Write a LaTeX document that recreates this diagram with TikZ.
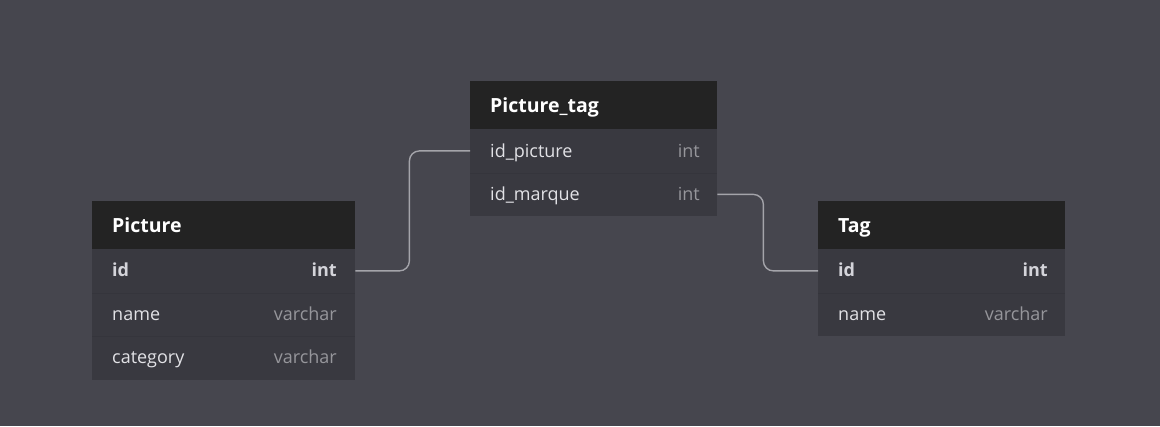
\documentclass[tikz,border=0pt]{standalone}
\usepackage{fontspec}
\setmainfont{Open Sans}
\definecolor{bgc}{HTML}{46464E}
\definecolor{hdrc}{HTML}{232323}
\definecolor{rowc}{HTML}{393940}
\definecolor{sepc}{HTML}{35353C}
\definecolor{fldc}{HTML}{E2E2E6}
\definecolor{typc}{HTML}{96969B}
\definecolor{pkc}{HTML}{D4D4DA}
\definecolor{connc}{HTML}{A4A4AA}
\tikzset{
  hdr/.style={fill=hdrc, draw=none, inner sep=0pt, anchor=north west, minimum height=48pt},
  rowbox/.style={fill=rowc, draw=none, inner sep=0pt, anchor=north west, minimum height=43.4pt},
  title/.style={text=white, font=\fontsize{19.5}{22}\selectfont\bfseries, inner sep=0pt, anchor=base west},
  fld/.style={text=fldc, font=\fontsize{18}{21}\selectfont, inner sep=0pt, anchor=base west},
  pk/.style={text=pkc, font=\fontsize{18}{21}\selectfont\bfseries, inner sep=0pt},
  typ/.style={text=typc, font=\fontsize{18}{21}\selectfont, inner sep=0pt, anchor=base east},
  conn/.style={draw=connc, line width=1.4pt, rounded corners=10pt},
}
\begin{document}
\begin{tikzpicture}[x=1pt,y=-1pt]
\fill[bgc] (0,0) rectangle (1160,426);
\useasboundingbox (0,0) rectangle (1160,426);
% ---- Picture table
\node[hdr, minimum width=263pt] (pich) at (92,201) {};
\node[rowbox, minimum width=263pt] (picr1) at (92,249) {};
\node[rowbox, minimum width=263pt] (picr2) at (92,292.5) {};
\node[rowbox, minimum width=263pt] (picr3) at (92,336) {};
\draw[sepc] (picr1.south west) -- (picr1.south east);
\draw[sepc] (picr2.south west) -- (picr2.south east);
\node[title] (pict) at (112,232) {Picture};
\node[pk, anchor=base west] (picf1) at (112,276.5) {id};
\node[pk, anchor=base east] (pict1) at (337,276.5) {int};
\node[fld] (picf2) at (112,320.5) {name};
\node[typ] (pict2) at (337,320.5) {varchar};
\node[fld] (picf3) at (112,363.5) {category};
\node[typ] (pict3) at (337,363.5) {varchar};
% ---- Picture_tag table
\node[hdr, minimum width=247pt] (pth) at (470,81) {};
\node[rowbox, minimum width=247pt] (ptr1) at (470,129) {};
\node[rowbox, minimum width=247pt] (ptr2) at (470,172.5) {};
\draw[sepc] (ptr1.south west) -- (ptr1.south east);
\node[title] (ptt) at (490,112) {Picture\_tag};
\node[fld] (ptf1) at (490,157.5) {id\_picture};
\node[typ] (ptt1) at (700,157.5) {int};
\node[fld] (ptf2) at (490,200.5) {id\_marque};
\node[typ] (ptt2) at (700,200.5) {int};
% ---- Tag table
\node[hdr, minimum width=247pt] (tagh) at (818,201) {};
\node[rowbox, minimum width=247pt] (tagr1) at (818,249) {};
\node[rowbox, minimum width=247pt] (tagr2) at (818,292.5) {};
\draw[sepc] (tagr1.south west) -- (tagr1.south east);
\node[title] (tagt) at (838,232) {Tag};
\node[pk, anchor=base west] (tagf1) at (838,276.5) {id};
\node[pk, anchor=base east] (tagt1) at (1048,276.5) {int};
\node[fld] (tagf2) at (838,320.5) {name};
\node[typ] (tagt2) at (1048,320.5) {varchar};
% ---- connectors
\draw[conn] (picr1.east) -- ++(54,0) |- (ptr1.west);
\draw[conn] (ptr2.east) -- ++(46,0) |- (tagr1.west);
\end{tikzpicture}
\end{document}
